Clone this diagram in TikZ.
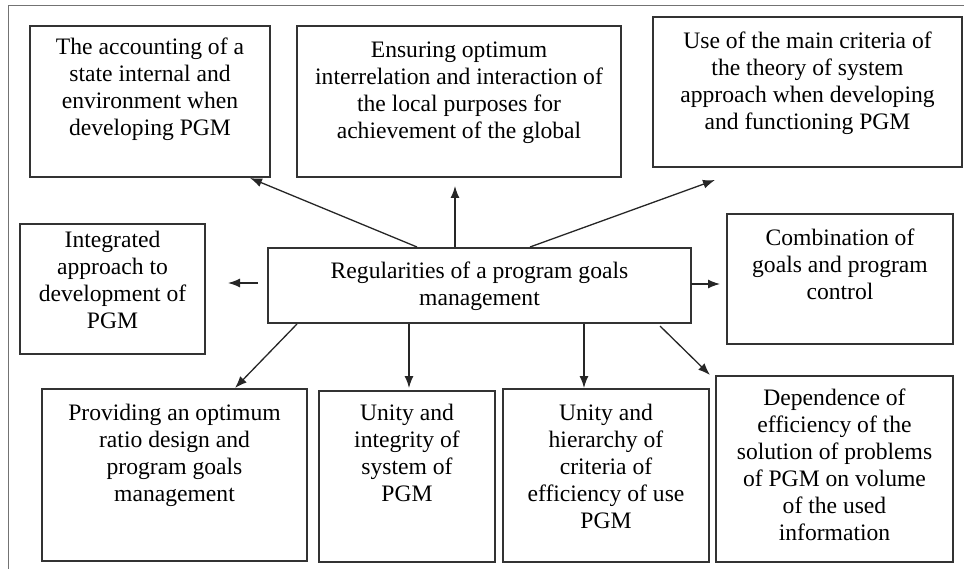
\documentclass[tikz,border=0pt]{standalone}
\usepackage{fontspec}
\setmainfont{Liberation Serif}
\usetikzlibrary{arrows.meta}
\newcommand\boxtxt[4]{\parbox[c][#2pt][t]{#1pt}{\centering\vspace*{#3pt}#4}}
\begin{document}
\begin{tikzpicture}[x=1pt,y=-1pt,
  blk/.style={draw=black!80,line width=1.6pt,inner sep=0pt,outer sep=0pt,fill=white,
    font=\fontsize{23.6}{27}\selectfont},
  arr/.style={draw=black!85,line width=1.3pt,-{Latex[length=12pt,width=9pt]}}]
\useasboundingbox (0,0) rectangle (964,569);
\draw[black!55,line width=1pt] (8,569) -- (8,6) -- (964,6);
% boxes (centre, width, height)
\node[blk] (b1) at (150,101.5) {\boxtxt{240}{151}{12}{The accounting of a\\ state internal and\\ environment when\\ developing PGM}};
\node[blk] (b2) at (459,101.5) {\boxtxt{324}{151}{16}{Ensuring optimum\\ interrelation and interaction of\\ the local purposes for\\ achievement of the global}};
\node[blk] (b3) at (807.5,92) {\boxtxt{309}{150}{15}{Use of the main criteria of\\ the theory of system\\ approach when developing\\ and functioning PGM}};
\node[blk] (b4) at (112.5,289) {\boxtxt{185}{130}{7}{Integrated\\ approach to\\ development of\\ PGM}};
\node[blk] (c) at (479.5,285.5) {\boxtxt{423}{75}{14}{Regularities of a program goals\\ management}};
\node[blk] (b5) at (840,279) {\boxtxt{226}{130}{15}{Combination of\\ goals and program\\ control}};
\node[blk] (b6) at (174.5,475) {\boxtxt{265}{172}{15}{Providing an optimum\\ ratio design and\\ program goals\\ management}};
\node[blk] (b7) at (407,476.5) {\boxtxt{176}{171}{13}{Unity and\\ integrity of\\ system of\\ PGM}};
\node[blk] (b8) at (606,475.5) {\boxtxt{206}{173}{15}{Unity and\\ hierarchy of\\ criteria of\\ efficiency of use\\ PGM}};
\node[blk] (b9) at (834.5,469) {\boxtxt{237}{186}{13}{Dependence of\\ efficiency of the\\ solution of problems\\ of PGM on volume\\ of the used\\ information}};
% connector end points
\coordinate (s1) at (417,247); \coordinate (e1) at (250,178);
\coordinate (s2) at (455,247); \coordinate (e2) at (455,186);
\coordinate (s3) at (530,247); \coordinate (e3) at (715,180);
\coordinate (s4) at (258,283); \coordinate (e4) at (228,283);
\coordinate (s5) at (691,284); \coordinate (e5) at (720,284);
\coordinate (s6) at (297,324); \coordinate (e6) at (235,388);
\coordinate (s7) at (409,324); \coordinate (e7) at (409,388);
\coordinate (s8) at (584,324); \coordinate (e8) at (584,388);
\coordinate (s9) at (660,326); \coordinate (e9) at (710,375);
\foreach \i in {1,...,9}{\draw[arr] (s\i) -- (e\i);}
\end{tikzpicture}
\end{document}
